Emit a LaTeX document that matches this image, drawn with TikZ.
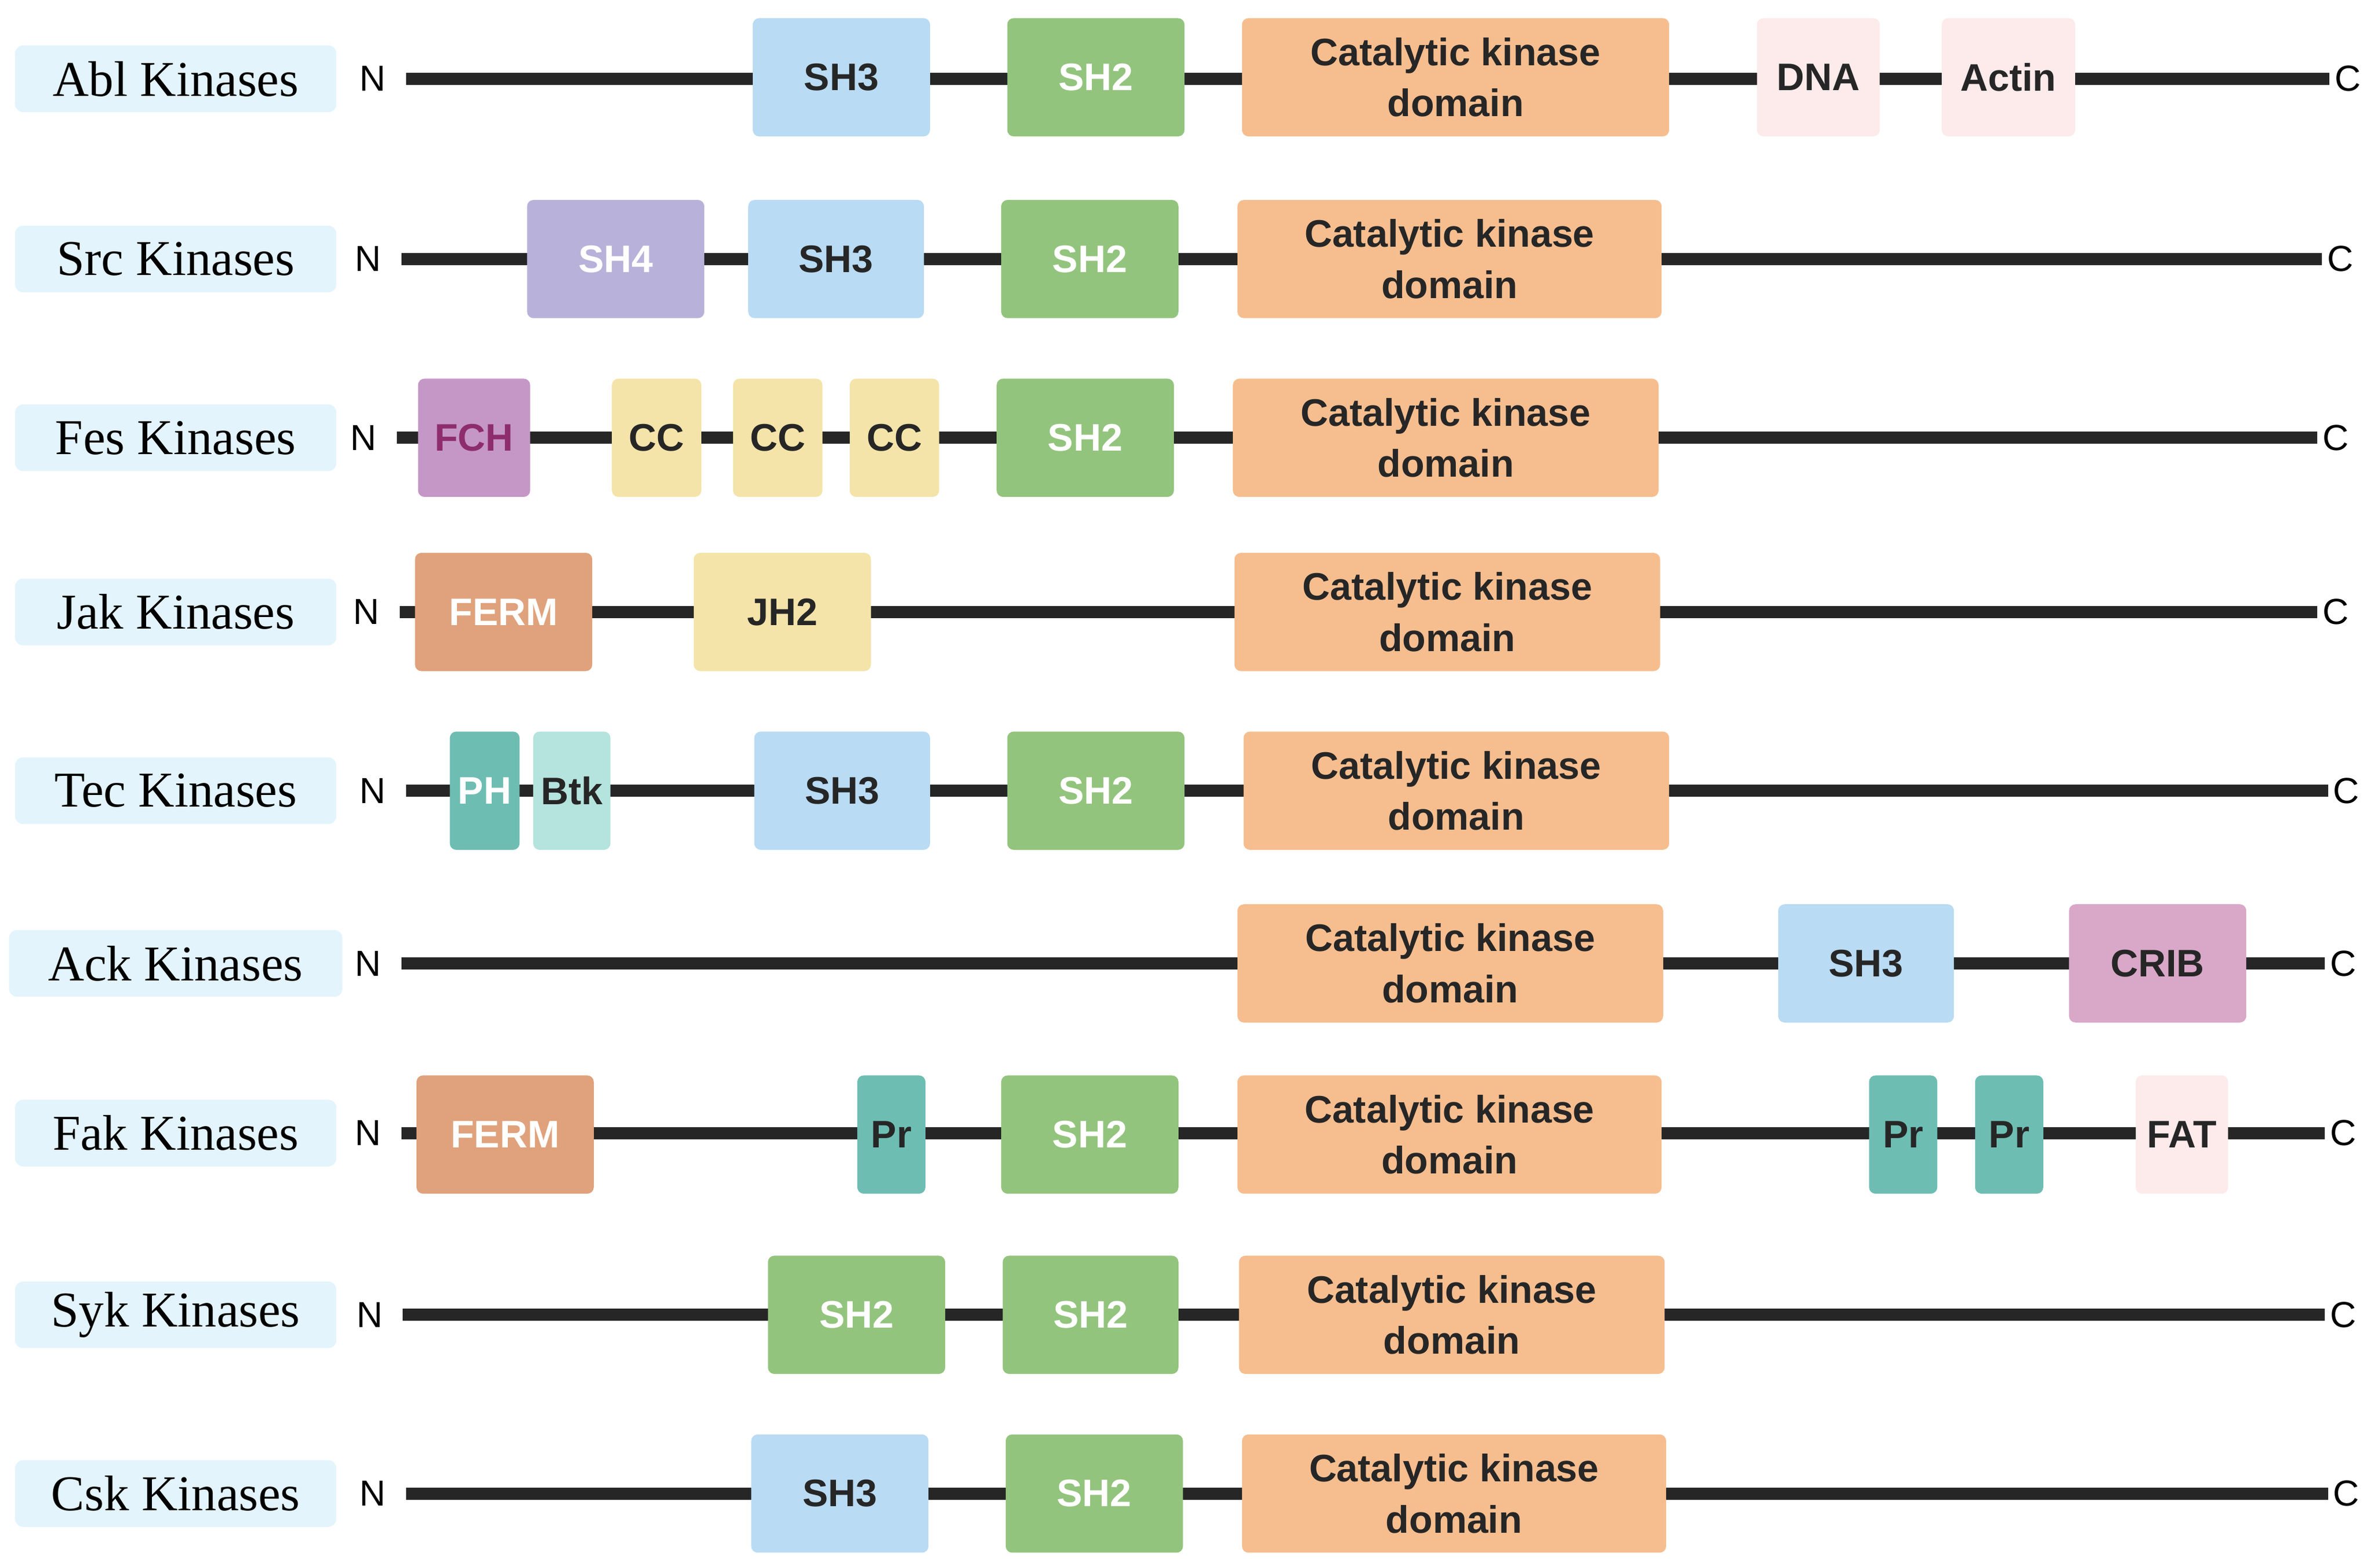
\documentclass[tikz,border=0pt]{standalone}
\usepackage{fontspec}
\setmainfont{Liberation Serif}
\newfontfamily\dsans{Liberation Sans}
\begin{document}
\begin{tikzpicture}[x=0.01cm,y=-0.01cm,
  lab/.style={fill=labbg,rounded corners=1.5pt,minimum height=0.44cm,font=\fontsize{9.4}{10}\selectfont,inner sep=0pt},
  dom/.style={rounded corners=1.2pt,minimum height=0.78cm,inner sep=0pt,font=\dsans\bfseries\fontsize{7.2}{9.6}\selectfont,align=center,text=black!85},
  end/.style={font=\dsans\fontsize{6.8}{8}\selectfont},
  bb/.style={line width=0.08cm,draw=black!85},
  SHthree/.style={dom,fill=sh3c},
  SHtwo/.style={dom,fill=sh2c,text=white},
  CAT/.style={dom,fill=catc},
  PNK/.style={dom,fill=pnkc},
  SHfour/.style={dom,fill=sh4c,text=white},
  FCH/.style={dom,fill=fchc,text=fcht},
  CC/.style={dom,fill=ccc},
  FERM/.style={dom,fill=fermc,text=white},
  PH/.style={dom,fill=phc,text=white},
  BTK/.style={dom,fill=btkc},
  CRIB/.style={dom,fill=cribc},
  PR/.style={dom,fill=phc}]
\definecolor{labbg}{HTML}{E3F4FC}
\definecolor{sh3c}{HTML}{B9DBF3}
\definecolor{sh2c}{HTML}{93C47D}
\definecolor{catc}{HTML}{F6BE8F}
\definecolor{pnkc}{HTML}{FDEAEA}
\definecolor{sh4c}{HTML}{B8B2DA}
\definecolor{fchc}{HTML}{C597C6}
\definecolor{fcht}{HTML}{8E2D6E}
\definecolor{ccc}{HTML}{F4E4A9}
\definecolor{fermc}{HTML}{DFA27C}
\definecolor{phc}{HTML}{6EBDB3}
\definecolor{btkc}{HTML}{B5E3DD}
\definecolor{cribc}{HTML}{D9A8C8}
\useasboundingbox (0,0) rectangle (1568,1035);
\newcommand\dm[6]{\node[#2,minimum width={(#4-#3)*0.01cm}] (#1) at ({(#3+#4)/2},#5) {#6};}
\newcommand\row[6]{%
  \node[lab,minimum width=#6] (#1lab) at (116,#3) {#2};
  \coordinate (#1a) at (#4,#3); \coordinate (#1b) at (#5,#3);
  \draw[bb] (#1a) -- (#1b);
  \node[end] (#1N) at ({#4-22},#3) {N};
  \node[end] (#1C) at ({#5+12},#3) {C};}
\def\ct{Catalytic kinase\\domain}
% Abl
\row{abl}{Abl Kinases}{52}{268}{1538}{2.12cm}
\dm{abl1}{SHthree}{497}{614}{51}{SH3}
\dm{abl2}{SHtwo}{665}{782}{51}{SH2}
\dm{abl3}{CAT}{820}{1102}{51}{\ct}
\dm{abl4}{PNK}{1160}{1241}{51}{DNA}
\dm{abl5}{PNK}{1282}{1370}{51}{Actin}
% Src
\row{src}{Src Kinases}{171}{265}{1533}{2.12cm}
\dm{src1}{SHfour}{348}{465}{171}{SH4}
\dm{src2}{SHthree}{494}{610}{171}{SH3}
\dm{src3}{SHtwo}{661}{778}{171}{SH2}
\dm{src4}{CAT}{817}{1097}{171}{\ct}
% Fes
\row{fes}{Fes Kinases}{289}{262}{1530}{2.12cm}
\dm{fes1}{FCH}{276}{350}{289}{FCH}
\dm{fes2}{CC}{404}{463}{289}{CC}
\dm{fes3}{CC}{484}{543}{289}{CC}
\dm{fes4}{CC}{561}{620}{289}{CC}
\dm{fes5}{SHtwo}{658}{775}{289}{SH2}
\dm{fes6}{CAT}{814}{1095}{289}{\ct}
% Jak
\row{jak}{Jak Kinases}{404}{264}{1530}{2.12cm}
\dm{jak1}{FERM}{274}{391}{404}{FERM}
\dm{jak2}{CC}{458}{575}{404}{JH2}
\dm{jak3}{CAT}{815}{1096}{404}{\ct}
% Tec
\row{tec}{Tec Kinases}{522}{268}{1537}{2.12cm}
\dm{tec1}{PH}{297}{343}{522}{PH}
\dm{tec2}{BTK}{352}{403}{522}{Btk}
\dm{tec3}{SHthree}{498}{614}{522}{SH3}
\dm{tec4}{SHtwo}{665}{782}{522}{SH2}
\dm{tec5}{CAT}{821}{1102}{522}{\ct}
% Ack
\row{ack}{Ack Kinases}{636}{265}{1535}{2.2cm}
\dm{ack1}{CAT}{817}{1098}{636}{\ct}
\dm{ack2}{SHthree}{1174}{1290}{636}{SH3}
\dm{ack3}{CRIB}{1366}{1483}{636}{CRIB}
% Fak
\row{fak}{Fak Kinases}{748}{265}{1535}{2.12cm}
\dm{fak1}{FERM}{275}{392}{749}{FERM}
\dm{fak2}{PR}{566}{611}{749}{Pr}
\dm{fak3}{SHtwo}{661}{778}{749}{SH2}
\dm{fak4}{CAT}{817}{1097}{749}{\ct}
\dm{fak5}{PR}{1234}{1279}{749}{Pr}
\dm{fak6}{PR}{1304}{1349}{749}{Pr}
\dm{fak7}{PNK}{1410}{1471}{749}{FAT}
% Syk
\row{syk}{Syk Kinases}{868}{266}{1535}{2.12cm}
\dm{syk1}{SHtwo}{507}{624}{868}{SH2}
\dm{syk2}{SHtwo}{662}{778}{868}{SH2}
\dm{syk3}{CAT}{818}{1099}{868}{\ct}
% Csk
\row{csk}{Csk Kinases}{986}{268}{1537}{2.12cm}
\dm{csk1}{SHthree}{496}{613}{986}{SH3}
\dm{csk2}{SHtwo}{664}{781}{986}{SH2}
\dm{csk3}{CAT}{820}{1100}{986}{\ct}
\end{tikzpicture}
\end{document}
